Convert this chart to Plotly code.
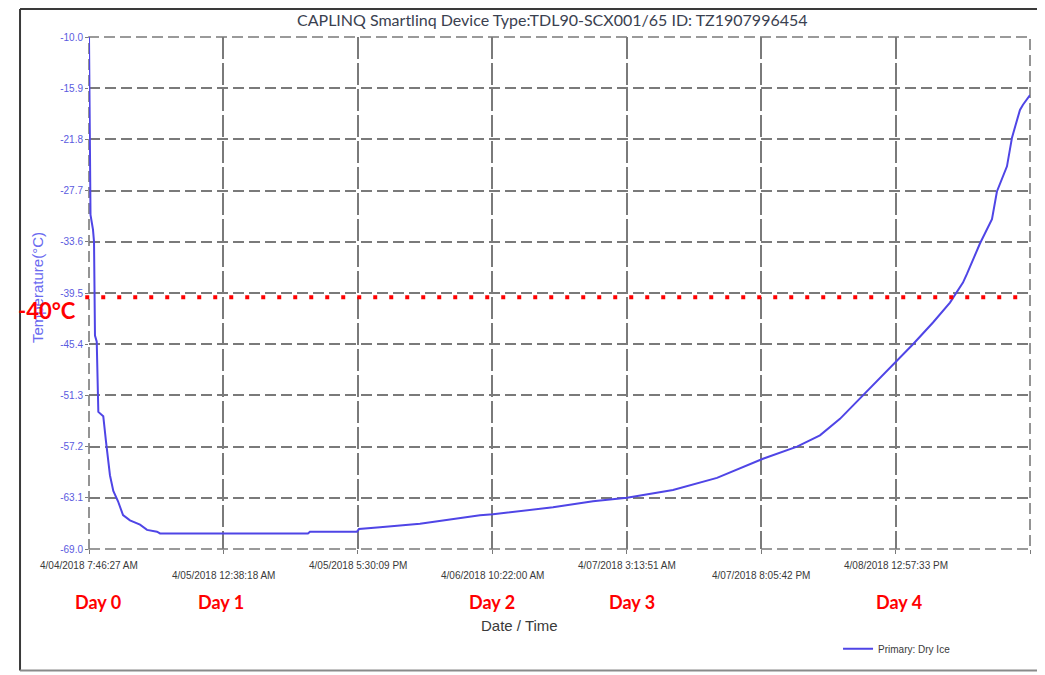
import datetime as dt
import plotly.graph_objects as go

# ---------------- data ----------------
start_time = dt.datetime(2018, 4, 4, 7, 46, 27)
elapsed_hours = [0.00, 0.04, 0.08, 0.19, 0.50, 0.63, 0.75, 0.97, 1.17, 1.79, 2.13, 2.63,
                 3.05, 3.64, 4.27, 5.14, 6.40, 7.28, 8.53, 8.91, 27.47, 27.72, 33.62,
                 33.87, 36.51, 41.52, 49.05, 50.68, 58.21, 63.23, 67.49, 73.26, 78.78,
                 81.66, 84.55, 88.82, 91.70, 94.21, 97.10, 99.61, 101.36, 103.37, 105.88,
                 108.01, 109.64, 110.14, 111.77, 113.28, 113.90, 115.16, 115.79, 116.79,
                 117.17, 118.05]
temperature_c = [-10.0, -15.0, -25.0, -30.5, -32.2, -33.6, -44.4, -45.1, -53.2, -53.7,
                 -56.6, -60.5, -62.3, -63.5, -65.1, -65.7, -66.2, -66.8, -67.0, -67.2,
                 -67.2, -67.0, -67.0, -66.7, -66.5, -66.1, -65.1, -65.0, -64.2, -63.5,
                 -63.1, -62.2, -60.8, -59.7, -58.6, -57.2, -55.9, -54.0, -51.3, -49.0,
                 -47.3, -45.4, -42.9, -40.6, -38.3, -37.3, -33.8, -31.0, -27.8, -24.9,
                 -21.6, -18.4, -17.8, -16.7]

y_ticks = [-10.0, -15.9, -21.8, -27.7, -33.6, -39.5, -45.4, -51.3, -57.2, -63.1, -69.0]
x_tick_times = ["2018-04-04 07:46:27", "2018-04-05 00:38:18", "2018-04-05 17:30:09",
                "2018-04-06 10:22:00", "2018-04-07 03:13:51", "2018-04-07 20:05:42",
                "2018-04-08 12:57:33", "2018-04-09 05:49:24"]
x_tick_labels = ["4/04/2018 7:46:27 AM", "4/05/2018 12:38:18 AM", "4/05/2018 5:30:09 PM",
                 "4/06/2018 10:22:00 AM", "4/07/2018 3:13:51 AM", "4/07/2018 8:05:42 PM",
                 "4/08/2018 12:57:33 PM", ""]
day_labels = ["Day 0", "Day 1", "Day 2", "Day 3", "Day 4"]
day_hours = [1.13, 16.56, 50.56, 68.12, 101.6]
threshold_c = -40
series_name = "Primary: Dry Ice"
title_text = "CAPLINQ Smartlinq Device Type:TDL90-SCX001/65 ID: TZ1907996454"

# ---------------- figure ----------------
times = [start_time + dt.timedelta(hours=h) for h in elapsed_hours]
x_start = x_tick_times[0]
x_end = x_tick_times[-1]

fig = go.Figure()
fig.add_trace(go.Scatter(
    x=times, y=temperature_c, mode="lines", name=series_name,
    line=dict(color="#4f45e6", width=2),
))

grid_col = "#7a7a7a"
fig.update_xaxes(
    type="date", range=[x_start, x_end], automargin=False,
    tickvals=x_tick_times, ticktext=[""] * len(x_tick_times),
    showgrid=True, gridcolor=grid_col, gridwidth=1.6, griddash="22px,4px",
    ticks="outside", ticklen=4, tickcolor=grid_col,
    showline=False, zeroline=False,
)
fig.update_yaxes(
    range=[y_ticks[-1], y_ticks[0]], automargin=False,
    tickvals=y_ticks, ticktext=[f"{v:.1f}" for v in y_ticks],
    showgrid=True, gridcolor=grid_col, gridwidth=1.6, griddash="11px,5px",
    ticks="outside", ticklen=3, tickcolor=grid_col,
    tickfont=dict(family="Liberation Sans, Arial", size=10, color="#5a5ae0"),
    showline=False, zeroline=False,
)

# dashed plot-area frame
fig.add_shape(type="rect", xref="paper", yref="paper", x0=0, x1=1, y0=0, y1=1,
              line=dict(color=grid_col, width=1.6, dash="11px,5px"), layer="below")

# outer frame
fig.add_shape(type="line", xref="paper", yref="paper", x0=-0.0733, x1=-0.0733,
              y0=-0.2374, y1=1.0545, line=dict(color="#3a3a3a", width=2))
fig.add_shape(type="line", xref="paper", yref="paper", x0=-0.0733, x1=1.03,
              y0=1.0545, y1=1.0545, line=dict(color="#3a3a3a", width=2))
fig.add_shape(type="line", xref="paper", yref="paper", x0=-0.0733, x1=1.03,
              y0=-0.2374, y1=-0.2374, line=dict(color="#8a8a8a", width=2))

# -40 threshold dotted line
fig.add_shape(type="line", xref="paper", yref="y", x0=-0.004, x1=0.995,
              y0=threshold_c, y1=threshold_c,
              line=dict(color="#ff0000", width=4, dash="4px,12px"))

annotations = []
# x tick labels (alternating rows)
for i, (t, lab) in enumerate(zip(x_tick_times, x_tick_labels)):
    if not lab:
        continue
    annotations.append(dict(
        x=t, xref="x", y=-0.033 if i % 2 == 0 else -0.0525, yref="paper",
        text=lab, showarrow=False, xanchor="center", yanchor="middle",
        font=dict(family="Liberation Sans, Arial", size=10, color="#3a3a3a"),
    ))
# day labels
for lab, h in zip(day_labels, day_hours):
    annotations.append(dict(
        x=start_time + dt.timedelta(hours=h), xref="x", y=-0.103, yref="paper",
        text=f"<b>{lab}</b>", showarrow=False, xanchor="center", yanchor="middle",
        font=dict(family="Lato, Open Sans", size=18, color="#ff0000"),
    ))
# title
annotations.append(dict(
    x=0.493, xref="paper", y=1.035, yref="paper", text=title_text, showarrow=False,
    xanchor="center", yanchor="middle",
    font=dict(family="Lato, Open Sans", size=16, color="#3a4150"),
))
# axis titles
annotations.append(dict(
    x=0.458, xref="paper", y=-0.150, yref="paper", text="Date / Time", showarrow=False,
    xanchor="center", yanchor="middle",
    font=dict(family="Liberation Sans, Arial", size=15, color="#3a3a3a"),
))
annotations.append(dict(
    x=-0.054, xref="paper", y=0.51, yref="paper", text="Temperature(°C)",
    showarrow=False, textangle=-90, xanchor="center", yanchor="middle",
    font=dict(family="Liberation Sans, Arial", size=15, color="#6a6af0"),
))
# -40 label
annotations.append(dict(
    x=-0.012, xref="paper", y=threshold_c, yref="y", yshift=-13,
    text=f"<b>{threshold_c}°C</b>", showarrow=False, xanchor="right", yanchor="middle",
    font=dict(family="Lato, Open Sans", size=22, color="#ff0000"),
))

# the page body adds an 8px offset; size the figure so the plot area lands where the reference has it
fig.update_layout(
    width=1037, height=667,
    margin=dict(l=81, r=15, t=29, b=124),
    paper_bgcolor="white", plot_bgcolor="white",
    showlegend=True,
    legend=dict(x=0.796, xanchor="left", y=-0.1946, yanchor="middle",
                bgcolor="rgba(0,0,0,0)",
                font=dict(family="Liberation Sans, Arial", size=10, color="#3a3a3a")),
    annotations=annotations,
)

fig.write_html("out.html")
